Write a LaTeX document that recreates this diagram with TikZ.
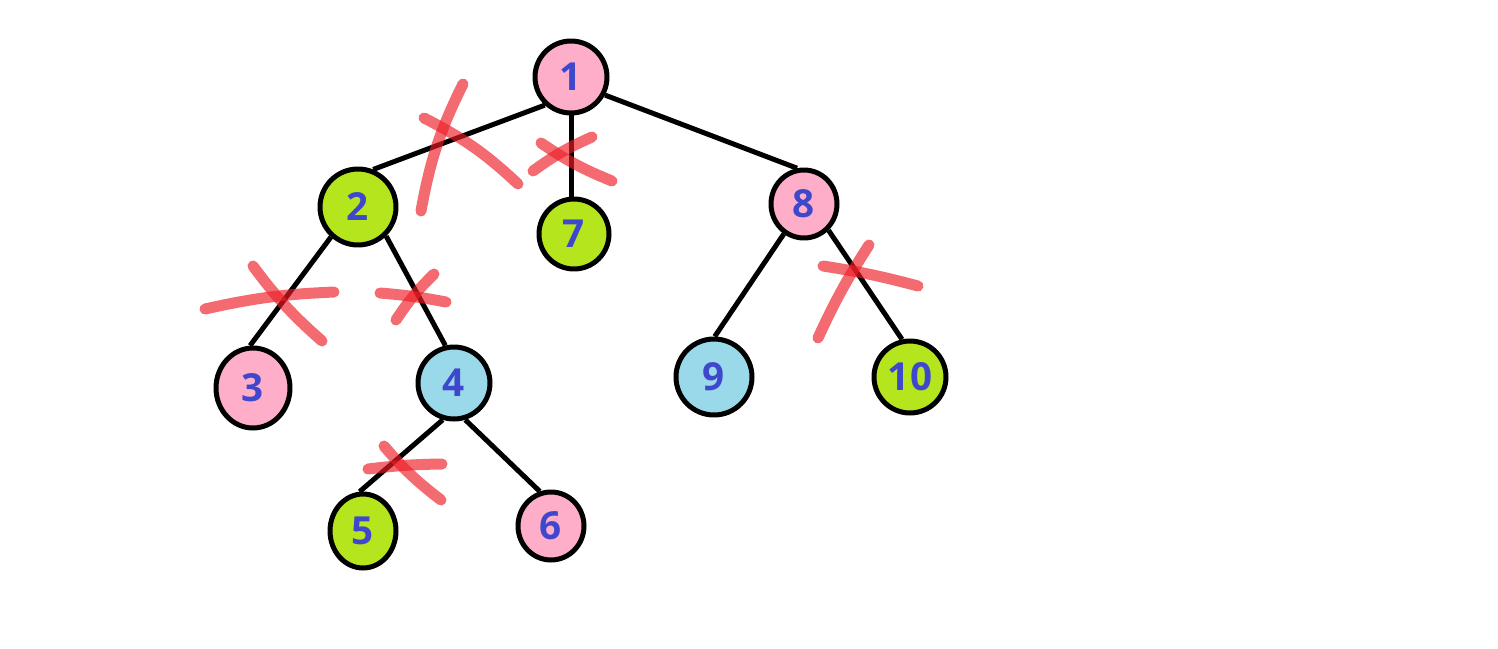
\documentclass[tikz,border=0pt]{standalone}
\usepackage{fontspec}
\setmainfont{Open Sans}
\usetikzlibrary{shapes.geometric}
\definecolor{pinkfill}{HTML}{FFAEC9}
\definecolor{greenfill}{HTML}{B5E61D}
\definecolor{bluefill}{HTML}{99D9EA}
\definecolor{numblue}{HTML}{3F48CC}
\definecolor{crossred}{HTML}{ED1C24}
\begin{document}
\begin{tikzpicture}[x=0.02cm, y=-0.02cm,
  vert/.style={ellipse, draw=black, line width=0.1cm, inner sep=0pt,
    minimum width=1.44cm, minimum height=1.44cm, text=numblue,
    font=\fontsize{22}{24}\selectfont\bfseries},
  pk/.style={vert, fill=pinkfill},
  gr/.style={vert, fill=greenfill},
  bl/.style={vert, fill=bluefill},
  edge/.style={line width=0.1cm},
  cross/.style={crossred, opacity=0.65, line width=0.22cm, line cap=round}]
  \useasboundingbox (0,0) rectangle (1498,649);
  \node[pk] (n1) at (571,77) {1};
  \node[gr, minimum width=1.52cm, minimum height=1.52cm] (n2) at (358,207) {2};
  \node[gr, minimum width=1.4cm, minimum height=1.4cm] (n7) at (574,234) {7};
  \node[pk, minimum width=1.32cm, minimum height=1.36cm] (n8) at (804,204) {8};
  \node[pk, minimum width=1.48cm, minimum height=1.6cm] (n3) at (253,388) {3};
  \node[bl] (n4) at (454,383) {4};
  \node[bl, minimum width=1.52cm, minimum height=1.52cm] (n9) at (714,377) {9};
  \node[gr] (n10) at (910,377) {10};
  \node[gr, minimum width=1.32cm, minimum height=1.48cm] (n5) at (363,531) {5};
  \node[pk, minimum width=1.32cm, minimum height=1.36cm] (n6) at (551,526) {6};
  % tree edges
  \draw[edge] (n1.227) -- (n2.68);
  \draw[edge] (n1.south) -- (n1.south |- n7.north);
  \draw[edge] (n1.332) -- (n8.101);
  \draw[edge] (n2.228) -- (n3.94);
  \draw[edge] (n2.314) -- (n4.103);
  \draw[edge] (n4.253) -- (n5.95);
  \draw[edge] (n4.287) -- (n6.108);
  \draw[edge] (n8.236) -- (n9.89);
  \draw[edge] (n8.313) -- (n10.102);
  % red crosses
  \draw[cross] (463,84) to[bend right=8] (421,211);
  \draw[cross] (424,118) to[bend left=8] (518,184);
  \draw[cross] (533,171) to[bend left=6] (592,137);
  \draw[cross] (541,143) to[bend right=6] (612,181);
  \draw[cross] (205,309) to[bend left=5] (334,292);
  \draw[cross] (253,266) to[bend right=6] (322,341);
  \draw[cross] (380,293) to[bend left=3] (446,302);
  \draw[cross] (434,274) to[bend right=6] (396,320);
  \draw[cross] (368,469) to[bend left=3] (442,464);
  \draw[cross] (384,446) to[bend right=6] (441,500);
  \draw[cross] (823,266) to[bend left=3] (918,286);
  \draw[cross] (869,245) to[bend right=4] (818,338);
\end{tikzpicture}
\end{document}
